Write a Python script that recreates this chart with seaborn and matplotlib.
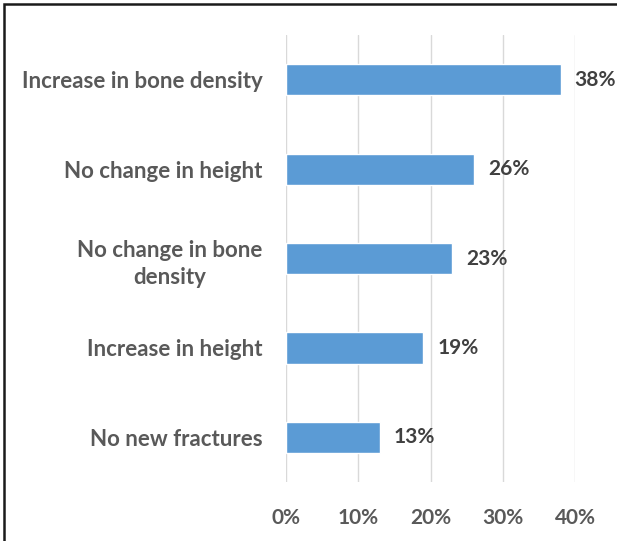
import matplotlib
matplotlib.use("Agg")
import matplotlib.pyplot as plt
import seaborn as sns
import pandas as pd
from matplotlib.patches import Rectangle

outcomes = [
    "Increase in bone density",
    "No change in height",
    "No change in bone\ndensity",
    "Increase in height",
    "No new fractures",
]
shares = [38, 26, 23, 19, 13]
x_ticks = [0, 10, 20, 30, 40]
x_tick_labels = ["0%", "10%", "20%", "30%", "40%"]

df = pd.DataFrame({"outcome": outcomes, "share": shares})

sns.set_theme(style="white")
plt.rcParams["font.family"] = ["Lato", "DejaVu Sans"]

fig = plt.figure(figsize=(6.17, 5.41), dpi=100)
ax = fig.add_axes([0.4635, 0.109, 0.4685, 0.826])

sns.barplot(data=df, x="share", y="outcome", orient="h", color="#5B9BD5",
            saturation=1, width=0.35, ax=ax)

ax.set_xlim(0, 40)
ax.set_xticks(x_ticks)
ax.set_xticklabels(x_tick_labels)
ax.grid(axis="x", color="#D9D9D9", linewidth=1)
ax.set_axisbelow(True)
for s in ax.spines.values():
    s.set_visible(False)
ax.set_xlabel("")
ax.set_ylabel("")
ax.tick_params(axis="x", length=0, pad=19, labelsize=15, labelcolor="#595959")
ax.tick_params(axis="y", length=0, pad=17, labelsize=16, labelcolor="#595959")
for lbl in ax.get_xticklabels() + ax.get_yticklabels():
    lbl.set_fontweight("bold")
for lbl in ax.get_yticklabels():
    lbl.set_multialignment("center")
    lbl.set_linespacing(1.4)

for i, v in enumerate(shares):
    ax.annotate(f"{v}%", xy=(v, i), xytext=(10, 0), textcoords="offset points",
                va="center", ha="left", fontsize=15, fontweight="bold",
                color="#404040", annotation_clip=False)

# outer chart frame
fig.patches.append(Rectangle((4 / 617, -0.1), 1.2, 1 - 4 / 541 + 0.1,
                             transform=fig.transFigure, fill=False,
                             edgecolor="#1a1a1a", linewidth=1.8))

fig.savefig("out.png", dpi=100)
